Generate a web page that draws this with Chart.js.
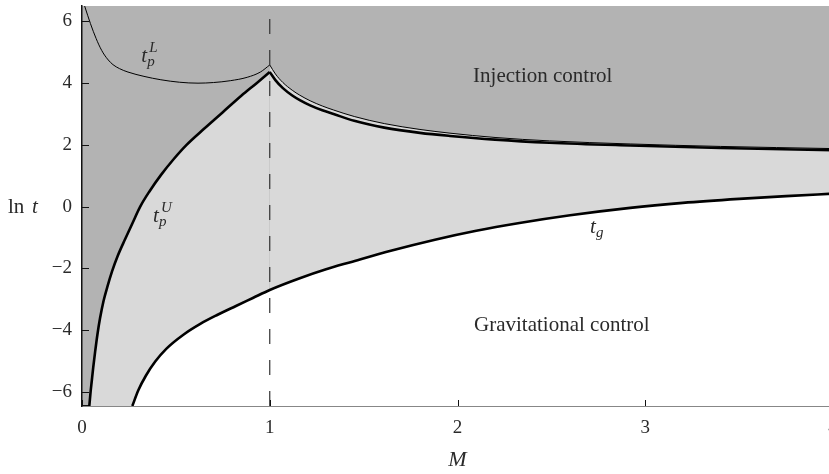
<!DOCTYPE html>
<html>
<head>
<meta charset="utf-8">
<script src="https://cdn.jsdelivr.net/npm/chart.js@4.4.0/dist/chart.umd.min.js"></script>
<style>
  html, body { margin: 0; padding: 0; background: #fff; overflow: hidden; }
  canvas { display: block; }
</style>
</head>
<body>
<canvas id="regimeChart" width="843" height="474"></canvas>
<script>
// tick values
const xTicks = [0, 1, 2, 3, 4];
const yTicks = [-6, -4, -2, 0, 2, 4, 6];

// t_g : gravitational time
const mG  = [0.268, 0.30, 0.34, 0.39, 0.45, 0.54, 0.63, 0.717, 0.82, 0.91, 1.0, 1.16, 1.3, 1.43, 1.65, 1.88, 2.1, 2.33, 2.6, 2.92, 3.2, 3.5, 3.75, 4.0];
const lnG = [-6.46, -5.95, -5.48, -5.02, -4.6, -4.15, -3.8, -3.52, -3.22, -2.96, -2.70, -2.32, -2.03, -1.8, -1.42, -1.07, -0.78, -0.53, -0.28, -0.04, 0.12, 0.25, 0.34, 0.42];

// t_p^U : upper branch, left and right of M = 1
const mUL  = [0.039, 0.045, 0.052, 0.06, 0.07, 0.082, 0.096, 0.115, 0.135, 0.16, 0.19, 0.23, 0.27, 0.31, 0.36, 0.42, 0.49, 0.557, 0.65, 0.75, 0.85, 0.93, 1.0];
const lnUL = [-6.46, -6.05, -5.65, -5.2, -4.7, -4.15, -3.62, -3.05, -2.6, -2.1, -1.6, -1.05, -0.52, 0.0, 0.5, 1.02, 1.55, 2.0, 2.52, 3.06, 3.6, 4.0, 4.36];
const mUR  = [1.0, 1.03, 1.07, 1.12, 1.16, 1.215, 1.28, 1.34, 1.45, 1.61, 1.8, 1.96, 2.2, 2.49, 2.92, 3.4, 4.0];
const lnUR = [4.36, 4.1, 3.84, 3.6, 3.45, 3.28, 3.12, 3.0, 2.78, 2.56, 2.39, 2.29, 2.17, 2.07, 1.98, 1.9, 1.83];

// t_p^L : lower branch, left and right of M = 1
const mLL  = [0.014, 0.03, 0.045, 0.06, 0.075, 0.09, 0.105, 0.12, 0.14, 0.165, 0.2, 0.245, 0.33, 0.42, 0.52, 0.618, 0.7, 0.79, 0.88, 0.95, 1.0];
const lnLL = [6.5, 6.2, 5.93, 5.68, 5.45, 5.24, 5.06, 4.91, 4.75, 4.6, 4.47, 4.36, 4.22, 4.11, 4.03, 4.0, 4.02, 4.08, 4.19, 4.36, 4.59];
const mLR  = [1.0, 1.03, 1.07, 1.12, 1.16, 1.215, 1.28, 1.34, 1.45, 1.61, 1.8, 1.96, 2.2, 2.49, 2.92, 3.4, 4.0];
const lnLR = [4.59, 4.3, 4.02, 3.77, 3.61, 3.43, 3.26, 3.13, 2.92, 2.69, 2.5, 2.38, 2.24, 2.13, 2.03, 1.95, 1.88];

// M = 1 marker
const mDash  = [1, 1];
const lnDash = [-6.46, 6.5];

const pts = (xs, ys) => xs.map((x, i) => ({ x: x, y: ys[i] }));

const SERIF = "'Liberation Serif', 'DejaVu Serif', 'Times New Roman', serif";
const DARK = '#b3b3b3';
const LIGHT = '#d9d9d9';
const TEXT = '#2a2a2a';

// region names and curve labels (data coords)
const regionLabels = [
  { x: 2.083, y: 4.05, text: 'Injection control' },
  { x: 2.088, y: -4.02, text: 'Gravitational control' }
];
const curveLabels = [
  { x: 0.315, y: 4.7, sup: 'L', sub: 'p' },
  { x: 0.378, y: -0.49, sup: 'U', sub: 'p' },
  { x: 2.706, y: -0.85, sup: '', sub: 'g' }
];

const areaBg = {
  id: 'areaBg',
  beforeDraw(chart) {
    const { ctx, chartArea: a } = chart;
    ctx.save();
    ctx.fillStyle = DARK;
    ctx.fillRect(a.left, a.top, a.right - a.left, a.bottom - a.top);
    ctx.restore();
  }
};

const decorations = {
  id: 'decorations',
  afterDraw(chart) {
    const { ctx, chartArea: a, scales: { x, y } } = chart;
    ctx.save();

    // inward tick marks
    ctx.strokeStyle = '#111';
    ctx.lineWidth = 1;
    yTicks.forEach(v => {
      const py = Math.round(y.getPixelForValue(v)) + 0.5;
      ctx.beginPath();
      ctx.moveTo(a.left, py);
      ctx.lineTo(a.left + 7, py);
      ctx.stroke();
    });
    xTicks.forEach(v => {
      const px = Math.round(x.getPixelForValue(v)) + 0.5;
      ctx.beginPath();
      ctx.moveTo(px, a.bottom);
      ctx.lineTo(px, a.bottom - 6);
      ctx.stroke();
    });

    ctx.fillStyle = TEXT;
    ctx.textBaseline = 'alphabetic';
    ctx.textAlign = 'left';

    // region names
    ctx.font = '21px ' + SERIF;
    regionLabels.forEach(l => {
      ctx.fillText(l.text, x.getPixelForValue(l.x), y.getPixelForValue(l.y));
    });

    // t with sub/superscripts
    curveLabels.forEach(l => {
      const px = x.getPixelForValue(l.x);
      const py = y.getPixelForValue(l.y);
      ctx.font = 'italic 21px ' + SERIF;
      ctx.fillText('t', px, py);
      ctx.font = 'italic 15px ' + SERIF;
      if (l.sup) ctx.fillText(l.sup, px + 8, py - 10);
      if (l.sub) ctx.fillText(l.sub, px + 6, py + 4);
    });

    // y axis title "ln t"
    const by = y.getPixelForValue(0) + 6.5;
    ctx.font = '21px ' + SERIF;
    ctx.fillText('ln', 8, by);
    ctx.font = 'italic 21px ' + SERIF;
    ctx.fillText('t', 32, by);

    ctx.restore();
  }
};

const thick = 2.6;

new Chart(document.getElementById('regimeChart').getContext('2d'), {
  type: 'line',
  data: {
    datasets: [
      { label: 't_g', data: pts(mG, lnG), borderColor: '#000', borderWidth: thick,
        fill: 'start', backgroundColor: '#ffffff' },
      { label: 'M=1', data: pts(mDash, lnDash), borderColor: '#333', borderWidth: 1.2,
        borderDash: [15, 16], fill: false, cubicInterpolationMode: 'default', tension: 0 },
      { label: 't_pL left', data: pts(mLL, lnLL), borderColor: '#000', borderWidth: 1,
        fill: false },
      { label: 't_pL right', data: pts(mLR, lnLR), borderColor: '#000', borderWidth: 1,
        fill: 'start', backgroundColor: LIGHT },
      { label: 't_pU left', data: pts(mUL, lnUL), borderColor: '#000', borderWidth: thick,
        fill: 'start', backgroundColor: LIGHT },
      { label: 't_pU right', data: pts(mUR, lnUR), borderColor: '#000', borderWidth: thick,
        fill: 'start', backgroundColor: LIGHT }
    ]
  },
  options: {
    responsive: false,
    animation: false,
    events: [],
    layout: { padding: { top: 6, right: 10, bottom: 0, left: 0 } },
    elements: {
      point: { radius: 0 },
      line: { cubicInterpolationMode: 'monotone', borderCapStyle: 'butt', borderJoinStyle: 'miter' }
    },
    plugins: {
      legend: { display: false },
      tooltip: { enabled: false },
      filler: { drawTime: 'beforeDatasetsDraw' }
    },
    scales: {
      x: {
        type: 'linear',
        min: 0,
        max: 4,
        z: 1,
        grid: { display: false, drawTicks: false },
        border: { display: true, color: '#111', width: 1.5 },
        afterBuildTicks: s => { s.ticks = xTicks.map(v => ({ value: v })); },
        afterFit: s => { s.height = 68; s.paddingLeft = 0; s.paddingRight = 0; },
        ticks: {
          color: TEXT,
          padding: 11,
          maxRotation: 0,
          font: { family: SERIF, size: 19 }
        },
        title: {
          display: true,
          text: 'M',
          color: TEXT,
          padding: { top: 0, bottom: 1 },
          font: { family: SERIF, size: 22, style: 'italic' }
        }
      },
      y: {
        type: 'linear',
        min: -6.46,
        max: 6.5,
        z: 1,
        grid: { display: false, drawTicks: false },
        border: { display: true, color: '#111', width: 1.5 },
        afterBuildTicks: s => { s.ticks = yTicks.map(v => ({ value: v })); },
        afterFit: s => { s.width = 82; s.paddingTop = 0; s.paddingBottom = 0; },
        ticks: {
          color: TEXT,
          padding: 10,
          font: { family: SERIF, size: 19 },
          callback: v => (v < 0 ? '\u2212' + Math.abs(v) : String(v))
        }
      }
    }
  },
  plugins: [areaBg, decorations]
});
</script>
</body>
</html>
